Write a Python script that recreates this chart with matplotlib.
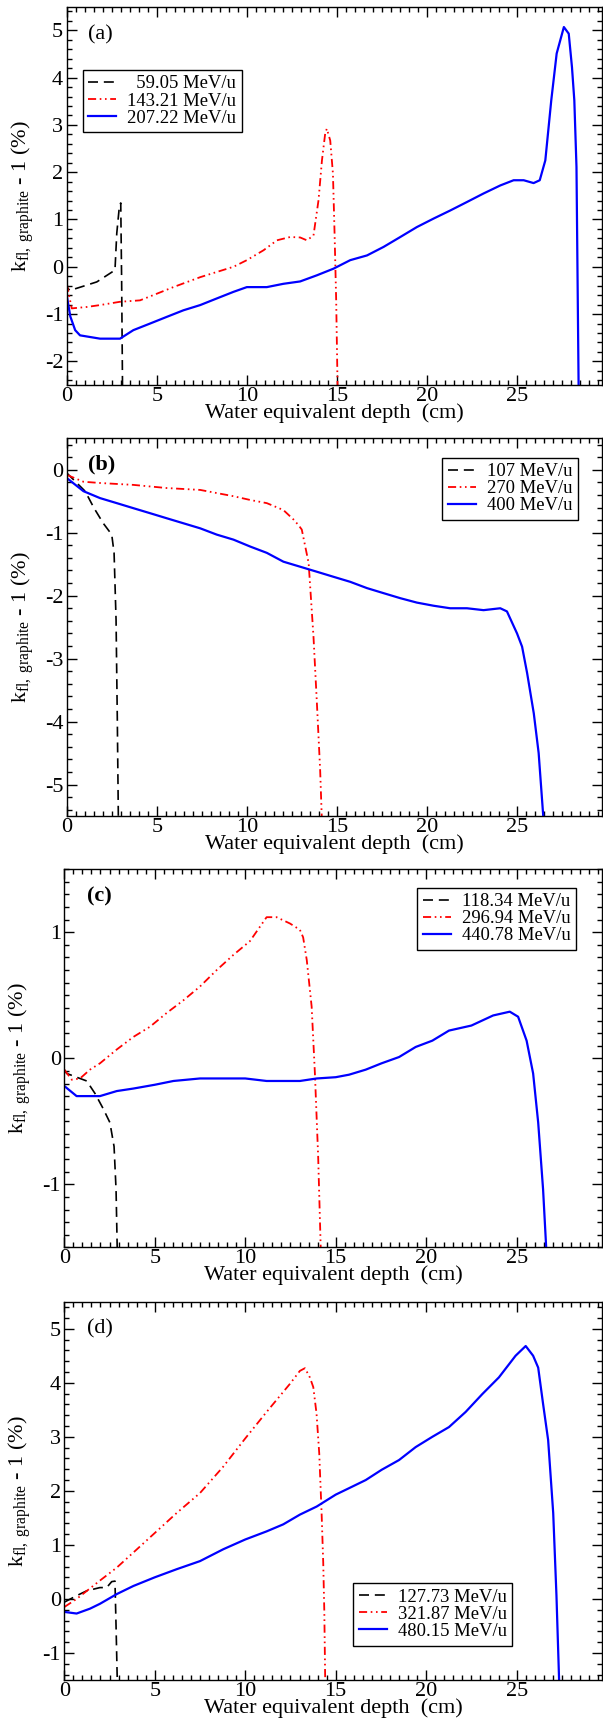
import matplotlib
matplotlib.use("Agg")
import matplotlib.pyplot as plt
from matplotlib.ticker import MultipleLocator

plt.rcParams['font.family'] = ['Liberation Serif', 'DejaVu Serif']
plt.rcParams['mathtext.fontset'] = 'custom'
plt.rcParams['mathtext.rm'] = 'Liberation Serif'
plt.rcParams['mathtext.it'] = 'Liberation Serif:italic'
plt.rcParams['axes.unicode_minus'] = False

# ---------------- data ----------------
# panel (a)
a_labels = ["  59.05 MeV/u", "143.21 MeV/u", "207.22 MeV/u"]
a_k_x = [0.0, 0.05, 0.18, 0.93, 1.67, 2.4, 2.68, 2.78, 2.92, 3.0, 3.05, 3.1]
a_k_y = [-0.3, -0.45, -0.50, -0.41, -0.32, -0.14, -0.07, 0.71, 1.26, 1.35, -0.3, -2.6]
a_r_x = [0.0, 0.28, 1.11, 1.85, 2.96, 4.07, 5.0, 5.92, 7.41, 8.33, 9.26, 10.0, 10.93, 11.67,
         12.41, 12.96, 13.33, 13.7, 13.98, 14.17, 14.35, 14.44, 14.63, 14.78, 14.87, 14.96, 15.04]
a_r_y = [-0.36, -0.88, -0.85, -0.81, -0.74, -0.71, -0.57, -0.43, -0.22, -0.11, 0.0, 0.14, 0.35,
         0.56, 0.63, 0.62, 0.56, 0.66, 1.41, 2.25, 2.82, 2.92, 2.67, 1.97, 0.71, -0.71, -2.6]
a_b_x = [0.0, 0.2, 0.47, 0.74, 1.85, 2.96, 3.70, 4.63, 5.55, 6.48, 7.41, 8.33, 9.26, 10.0, 11.11,
         12.03, 12.96, 13.89, 14.81, 15.74, 16.67, 17.59, 18.52, 19.44, 20.37, 21.29, 22.22,
         23.14, 24.07, 24.81, 25.37, 25.92, 26.26, 26.57, 26.9, 27.2, 27.6, 27.87, 28.05, 28.18,
         28.3, 28.42]
a_b_y = [-0.6, -1.05, -1.34, -1.45, -1.52, -1.52, -1.34, -1.20, -1.06, -0.92, -0.81, -0.67,
         -0.53, -0.43, -0.43, -0.36, -0.31, -0.18, -0.04, 0.14, 0.24, 0.42, 0.63, 0.84, 1.02,
         1.19, 1.37, 1.55, 1.72, 1.83, 1.83, 1.77, 1.83, 2.25, 3.52, 4.51, 5.07, 4.93, 4.22,
         3.52, 2.11, -2.6]

# panel (b)
b_labels = ["107 MeV/u", "270 MeV/u", "400 MeV/u"]
b_k_x = [0.0, 1.02, 1.52, 2.03, 2.5, 2.63, 2.74, 2.81, 2.87]
b_k_y = [-0.05, -0.34, -0.61, -0.85, -1.03, -1.32, -2.38, -3.97, -5.6]
b_r_x = [0.0, 0.93, 1.85, 3.70, 5.55, 7.41, 8.33, 9.26, 10.19, 11.11, 12.03, 12.59, 12.87, 13.05,
         13.43, 13.7, 13.89, 14.07, 14.17]
b_r_y = [-0.08, -0.19, -0.21, -0.24, -0.29, -0.32, -0.37, -0.42, -0.48, -0.53, -0.64, -0.79,
         -0.88, -0.95, -1.48, -2.65, -3.71, -4.77, -5.6]
b_b_x = [0.0, 0.93, 1.85, 2.78, 3.70, 4.63, 5.55, 6.48, 7.41, 8.33, 9.26, 10.19, 11.11, 12.03,
         12.96, 13.89, 14.81, 15.74, 16.67, 17.59, 18.52, 19.44, 20.37, 21.29, 22.22, 23.14,
         24.07, 24.44, 25.0, 25.28, 25.56, 25.93, 26.2, 26.48]
b_b_y = [-0.13, -0.34, -0.45, -0.53, -0.61, -0.69, -0.77, -0.85, -0.93, -1.03, -1.11, -1.22,
         -1.32, -1.46, -1.54, -1.62, -1.70, -1.78, -1.88, -1.96, -2.04, -2.11, -2.16, -2.20,
         -2.20, -2.23, -2.20, -2.25, -2.60, -2.81, -3.23, -3.87, -4.50, -5.6]

# panel (c)
c_labels = ["118.34 MeV/u", "296.94 MeV/u", "440.78 MeV/u"]
c_k_x = [0.0, 0.13, 0.68, 1.24, 1.70, 2.15, 2.52, 2.75, 2.86, 2.93]
c_k_y = [-0.09, -0.12, -0.15, -0.18, -0.28, -0.40, -0.51, -0.70, -1.04, -1.55]
c_r_x = [0.0, 0.41, 0.87, 1.42, 1.97, 2.9, 3.82, 4.73, 5.66, 6.58, 7.5, 8.42, 9.34, 10.26, 11.18,
         11.73, 12.47, 13.02, 13.2, 13.4, 13.67, 13.85, 14.03, 14.18]
c_r_y = [-0.09, -0.17, -0.16, -0.09, -0.04, 0.07, 0.17, 0.25, 0.36, 0.46, 0.57, 0.70, 0.82, 0.93,
         1.12, 1.12, 1.07, 1.02, 0.96, 0.78, 0.41, -0.12, -0.78, -1.55]
c_b_x = [0.0, 0.68, 1.97, 2.9, 3.82, 5.0, 6.03, 7.5, 10.0, 11.18, 13.02, 13.95, 15.0, 15.74, 16.66,
         17.53, 18.5, 19.42, 20.34, 21.26, 22.5, 23.7, 24.62, 25.08, 25.55, 25.91, 26.19, 26.46,
         26.65]
c_b_y = [-0.22, -0.30, -0.30, -0.26, -0.24, -0.21, -0.18, -0.16, -0.16, -0.18, -0.18, -0.16,
         -0.15, -0.13, -0.09, -0.04, 0.01, 0.09, 0.14, 0.22, 0.26, 0.34, 0.37, 0.33, 0.14, -0.12,
         -0.51, -1.04, -1.55]

# panel (d)
d_labels = ["127.73 MeV/u", "321.87 MeV/u", "480.15 MeV/u"]
d_k_x = [0.0, 0.68, 1.24, 1.97, 2.34, 2.62, 2.8, 2.86, 2.93]
d_k_y = [-0.06, 0.06, 0.15, 0.21, 0.21, 0.32, 0.33, -0.5, -1.55]
d_r_x = [0.0, 0.68, 1.97, 2.9, 3.82, 5.0, 6.21, 7.5, 8.79, 10.0, 11.18, 12.47, 13.02, 13.3, 13.57,
         13.76, 13.94, 14.09, 14.22, 14.31, 14.37, 14.42]
d_r_y = [-0.15, 0.0, 0.34, 0.58, 0.86, 1.22, 1.59, 1.96, 2.45, 2.97, 3.46, 3.98, 4.22, 4.27,
         4.10, 3.92, 3.43, 2.69, 1.59, 0.67, -0.24, -1.55]
d_b_x = [0.0, 0.68, 1.42, 1.97, 2.9, 3.82, 5.0, 6.21, 7.5, 8.79, 10.0, 11.18, 12.1, 13.02, 13.95,
         15.0, 15.74, 16.66, 17.54, 18.5, 19.42, 20.34, 21.26, 22.18, 23.1, 24.02, 24.94, 25.5,
         25.91, 26.19, 26.46, 26.74, 27.02, 27.2, 27.35]
d_b_y = [-0.24, -0.27, -0.18, -0.09, 0.09, 0.24, 0.40, 0.55, 0.70, 0.92, 1.10, 1.25, 1.38, 1.56,
         1.71, 1.93, 2.05, 2.20, 2.39, 2.57, 2.81, 3.00, 3.18, 3.46, 3.79, 4.10, 4.50, 4.68,
         4.50, 4.28, 3.61, 2.94, 1.59, 0.06, -1.55]

panel_tags = ["(a)", "(b)", "(c)", "(d)"]
x_limits = (0, 29.7)
y_limits = [(-2.5, 5.5), (-5.5, 0.5), (-1.5, 1.5), (-1.5, 5.5)]
y_minor = [0.2, 0.2, 0.1, 0.2]

panels = [
    (a_labels, (a_k_x, a_k_y), (a_r_x, a_r_y), (a_b_x, a_b_y)),
    (b_labels, (b_k_x, b_k_y), (b_r_x, b_r_y), (b_b_x, b_b_y)),
    (c_labels, (c_k_x, c_k_y), (c_r_x, c_r_y), (c_b_x, c_b_y)),
    (d_labels, (d_k_x, d_k_y), (d_r_x, d_r_y), (d_b_x, d_b_y)),
]

# ---------------- layout / style ----------------
W, H = 603, 1729
fig = plt.figure(figsize=(W / 100, H / 100), dpi=100)

# axes boxes in pixels: left, top, right, bottom
boxes = [(66.7, 6.7, 601.7, 385.0),
         (66.7, 438.3, 601.7, 816.0),
         (64.3, 869.3, 601.7, 1247.3),
         (64.3, 1301.7, 601.7, 1680.0)]
legend_cfg = [dict(loc="upper left", bbox_to_anchor=(0.030, 0.833)),
              dict(loc="upper right", bbox_to_anchor=(0.956, 0.949)),
              dict(loc="upper right", bbox_to_anchor=(0.953, 0.951)),
              dict(loc="lower right", bbox_to_anchor=(0.834, 0.091))]
tag_pos = [(0.040, 0.926), (0.040, 0.931), (0.042, 0.929), (0.042, 0.929)]
tag_bold = [False, True, True, False]

styles = [dict(color="black", lw=1.2, ls=(0, (6.0, 3.5))),
          dict(color="#ff0000", lw=1.3, ls=(0, (4.5, 2.0, 0.9, 2.0, 0.9, 2.0))),
          dict(color="#0000ff", lw=1.6, ls="-")]

for i, (labels, k, r, b) in enumerate(panels):
    l, t, rr, bt = boxes[i]
    ax = fig.add_axes([l / W, 1 - bt / H, (rr - l) / W, (bt - t) / H])
    for (xs, ys), st, lab in zip((k, r, b), styles, labels):
        ax.plot(xs, ys, label=lab, **st)
    ax.set_xlim(*x_limits)
    ax.set_ylim(*y_limits[i])
    ax.xaxis.set_major_locator(MultipleLocator(5))
    ax.xaxis.set_minor_locator(MultipleLocator(0.5))
    ax.yaxis.set_major_locator(MultipleLocator(1))
    ax.yaxis.set_minor_locator(MultipleLocator(y_minor[i]))
    ax.tick_params(which="both", direction="in", top=True, right=True, width=1.0)
    ax.tick_params(which="major", length=7, labelsize=16)
    ax.tick_params(axis="x", which="major", pad=1.5)
    ax.tick_params(axis="y", which="major", pad=2.5)
    ax.tick_params(which="minor", length=3.5)
    for sp in ax.spines.values():
        sp.set_linewidth(1.0)
    ax.set_xlabel("Water equivalent depth  (cm)", fontsize=16, labelpad=-2)
    ax.set_ylabel(r"k$_{\rm fl,\ graphite}$ - 1 (%)", fontsize=16)
    ax.yaxis.set_label_coords(-0.058, 0.5)
    ax.text(tag_pos[i][0], tag_pos[i][1], panel_tags[i], transform=ax.transAxes,
            fontsize=16, ha="left", va="center",
            fontweight="bold" if tag_bold[i] else "normal")
    leg = ax.legend(fontsize=13.4, frameon=True, fancybox=False, edgecolor="black",
                    framealpha=1, handlelength=1.5, handletextpad=0.6,
                    labelspacing=0.0, borderpad=0.3, borderaxespad=0,
                    **legend_cfg[i])
    leg.get_frame().set_linewidth(1.0)

fig.savefig("out.png", dpi=100)
